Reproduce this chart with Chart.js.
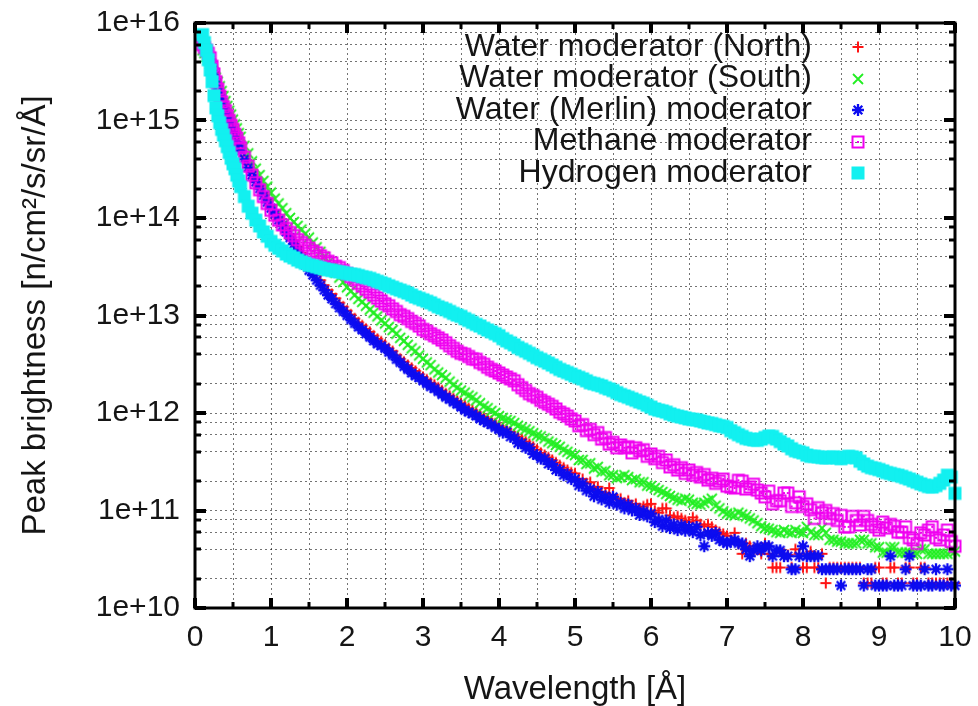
<!DOCTYPE html>
<html>
<head>
<meta charset="utf-8">
<title>Peak brightness by moderator</title>
<script src="https://cdn.jsdelivr.net/npm/chart.js@4.4.1/dist/chart.umd.min.js"></script>
<style>
  html, body { margin: 0; padding: 0; background: #ffffff; }
  #wrap { width: 978px; height: 706px; }
</style>
</head>
<body>
<div id="wrap"><canvas id="chart" width="978" height="706"></canvas></div>
<script>
// Wavelength bins [Å]: finer below 0.6 Å, 0.05 Å steps above
const wavelength = [
  0.1, 0.125, 0.15, 0.175, 0.2, 0.225, 0.25, 0.275, 0.3, 0.325, 0.35, 0.375, 0.4, 0.425, 0.45, 0.475, 0.5, 0.525, 0.55, 0.575, 0.6,
  0.65, 0.7, 0.75, 0.8, 0.85, 0.9, 0.95,
  1.0, 1.05, 1.1, 1.15, 1.2, 1.25, 1.3, 1.35, 1.4, 1.45, 1.5, 1.55, 1.6, 1.65, 1.7, 1.75, 1.8, 1.85, 1.9, 1.95,
  2.0, 2.05, 2.1, 2.15, 2.2, 2.25, 2.3, 2.35, 2.4, 2.45, 2.5, 2.55, 2.6, 2.65, 2.7, 2.75, 2.8, 2.85, 2.9, 2.95,
  3.0, 3.05, 3.1, 3.15, 3.2, 3.25, 3.3, 3.35, 3.4, 3.45, 3.5, 3.55, 3.6, 3.65, 3.7, 3.75, 3.8, 3.85, 3.9, 3.95,
  4.0, 4.05, 4.1, 4.15, 4.2, 4.25, 4.3, 4.35, 4.4, 4.45, 4.5, 4.55, 4.6, 4.65, 4.7, 4.75, 4.8, 4.85, 4.9, 4.95,
  5.0, 5.05, 5.1, 5.15, 5.2, 5.25, 5.3, 5.35, 5.4, 5.45, 5.5, 5.55, 5.6, 5.65, 5.7, 5.75, 5.8, 5.85, 5.9, 5.95,
  6.0, 6.05, 6.1, 6.15, 6.2, 6.25, 6.3, 6.35, 6.4, 6.45, 6.5, 6.55, 6.6, 6.65, 6.7, 6.75, 6.8, 6.85, 6.9, 6.95,
  7.0, 7.05, 7.1, 7.15, 7.2, 7.25, 7.3, 7.35, 7.4, 7.45, 7.5, 7.55, 7.6, 7.65, 7.7, 7.75, 7.8, 7.85, 7.9, 7.95,
  8.0, 8.05, 8.1, 8.15, 8.2, 8.25, 8.3, 8.35, 8.4, 8.45, 8.5, 8.55, 8.6, 8.65, 8.7, 8.75, 8.8, 8.85, 8.9, 8.95,
  9.0, 9.05, 9.1, 9.15, 9.2, 9.25, 9.3, 9.35, 9.4, 9.45, 9.5, 9.55, 9.6, 9.65, 9.7, 9.75, 9.8, 9.85, 9.9, 9.95,
  10.0
];

// Peak brightness [n/cm2/s/sr/Å] for each moderator
const waterNorth = [
  6.3e15, 5.75e15, 5.25e15, 4.8e15, 4.3e15, 3.7e15, 3.1e15, 2.6e15, 2.24e15, 1.95e15, 1.66e15, 1.45e15, 1.29e15, 1.15e15, 1.02e15, 9.1e14, 8.1e14, 7.2e14, 6.5e14, 5.9e14, 5.25e14,
  4.3e14, 3.55e14, 2.95e14, 2.5e14, 2.14e14, 1.82e14, 1.58e14,
  1.35e14, 1.17e14, 1.02e14, 8.9e13, 7.8e13, 6.8e13, 5.9e13, 5.1e13, 4.4e13, 3.7e13, 3.2e13, 2.9e13, 2.6e13, 2.3e13, 2.04e13, 1.82e13, 1.66e13, 1.5e13, 1.35e13, 1.23e13,
  1.12e13, 1.02e13, 9.3e12, 8.5e12, 7.9e12, 7.3e12, 6.8e12, 6.2e12, 5.75e12, 5.4e12, 5.0e12, 4.6e12, 4.3e12, 3.9e12, 3.6e12, 3.35e12, 3.1e12, 2.9e12, 2.7e12, 2.5e12,
  2.34e12, 2.2e12, 2.04e12, 1.95e12, 1.82e12, 1.7e12, 1.58e12, 1.5e12, 1.41e12, 1.33e12, 1.26e12, 1.2e12, 1.12e12, 1.07e12, 1.02e12, 9.5e11, 9.1e11, 8.7e11, 8.3e11, 7.8e11,
  7.4e11, 7.1e11, 6.8e11, 6.4e11, 6.0e11, 5.7e11, 5.4e11, 5.1e11, 4.8e11, 4.5e11, 4.2e11, 3.9e11, 3.7e11, 3.5e11, 3.3e11, 3.1e11, 2.9e11, 2.75e11, 2.6e11, 2.45e11,
  2.4e11, 2.1e11, 2.1e11, 1.9e11, 1.95e11, 1.7e11, 1.75e11, 1.55e11, 1.51e11, 1.7e11, 1.45e11, 1.3e11, 1.32e11, 1.2e11, 1.26e11, 1.1e11, 1.17e11, 1.05e11, 1.1e11, 1.15e11,
  1.17e11, 1.0e11, 9.5e10, 1.05e11, 1.05e11, 8.9e10, 8.5e10, 8.7e10, 8.3e10, 7.9e10, 7.6e10, 8.5e10, 7.9e10, 7.2e10, 6.9e10, 7.2e10, 6.8e10, 6.3e10, 6.0e10, 5.75e10,
  5.5e10, 5.0e10, 5.9e10, 4.6e10, 3.6e10, 4.6e10, 4.3e10, 4.0e10, 4.0e10, 3.6e10, 4.6e10, 3.6e10, 2.6e10, 2.6e10, 2.6e10, 3.6e10, 3.5e10, 2.6e10, 4.0e10, 3.6e10,
  2.6e10, 2.6e10, 3.8e10, 2.6e10, 2.6e10, 3.6e10, 1.8e10, 2.6e10, 2.6e10, 2.6e10, 2.6e10, 2.6e10, 2.6e10, 2.6e10, 2.6e10, 2.6e10, 1.8e10, 1.8e10, 1.8e10, 2.6e10,
  2.6e10, 1.8e10, 1.8e10, 2.6e10, 2.6e10, 1.8e10, 1.8e10, 2.6e10, 2.6e10, 1.8e10, 1.8e10, 2.6e10, 2.6e10, 1.8e10, 1.8e10, 1.8e10, 1.8e10, 1.8e10, 1.8e10, 1.8e10,
  1.8e10
];
const waterSouth = [
  5.25e15, 4.9e15, 4.5e15, 4.2e15, 3.8e15, 3.4e15, 3.1e15, 2.75e15, 2.5e15, 2.24e15, 2.0e15, 1.78e15, 1.58e15, 1.41e15, 1.26e15, 1.15e15, 1.02e15, 9.1e14, 8.3e14, 7.4e14, 6.8e14,
  5.5e14, 4.6e14, 3.8e14, 3.2e14, 2.75e14, 2.4e14, 2.1e14,
  1.82e14, 1.58e14, 1.41e14, 1.26e14, 1.12e14, 1.0e14, 9.1e13, 8.3e13, 7.6e13, 6.9e13, 6.3e13, 5.6e13, 5.0e13, 4.5e13, 4.0e13, 3.47e13, 3.1e13, 2.75e13, 2.45e13, 2.2e13,
  1.95e13, 1.78e13, 1.62e13, 1.48e13, 1.38e13, 1.26e13, 1.15e13, 1.07e13, 9.8e12, 8.9e12, 8.3e12, 7.6e12, 7.1e12, 6.5e12, 5.9e12, 5.5e12, 5.0e12, 4.6e12, 4.3e12, 3.9e12,
  3.6e12, 3.3e12, 3.1e12, 2.8e12, 2.6e12, 2.45e12, 2.3e12, 2.1e12, 1.95e12, 1.82e12, 1.7e12, 1.62e12, 1.51e12, 1.45e12, 1.35e12, 1.26e12, 1.17e12, 1.12e12, 1.05e12, 1.0e12,
  9.3e11, 8.9e11, 8.5e11, 8.3e11, 7.9e11, 7.4e11, 7.1e11, 6.8e11, 6.5e11, 6.2e11, 5.9e11, 5.75e11, 5.5e11, 5.1e11, 4.9e11, 4.7e11, 4.5e11, 4.2e11, 4.0e11, 3.8e11,
  3.7e11, 3.3e11, 3.3e11, 3.0e11, 3.05e11, 2.7e11, 2.8e11, 2.5e11, 2.55e11, 2.3e11, 2.3e11, 2.15e11, 2.2e11, 2.3e11, 2.2e11, 2.05e11, 2.1e11, 1.95e11, 1.95e11, 1.8e11,
  1.78e11, 1.7e11, 1.62e11, 1.55e11, 1.48e11, 1.41e11, 1.35e11, 1.29e11, 1.26e11, 1.32e11, 1.29e11, 1.2e11, 1.17e11, 1.15e11, 1.2e11, 1.26e11, 1.32e11, 1.12e11, 1.05e11, 9.8e10,
  9.3e10, 9.1e10, 8.9e10, 9.5e10, 9.1e10, 8.7e10, 8.3e10, 7.9e10, 7.4e10, 6.9e10, 6.6e10, 6.5e10, 6.3e10, 6.0e10, 5.9e10, 6.3e10, 6.0e10, 5.9e10, 6.3e10, 6.0e10,
  5.9e10, 6.8e10, 6.0e10, 5.6e10, 5.6e10, 6.6e10, 5.9e10, 5.0e10, 5.0e10, 4.8e10, 4.8e10, 4.6e10, 4.6e10, 4.6e10, 4.6e10, 5.0e10, 5.0e10, 4.6e10, 4.6e10, 4.2e10,
  4.2e10, 3.7e10, 3.7e10, 4.2e10, 4.2e10, 3.7e10, 3.7e10, 3.7e10, 3.7e10, 3.6e10, 3.6e10, 4.0e10, 4.0e10, 3.6e10, 3.6e10, 3.6e10, 3.6e10, 3.6e10, 3.6e10, 3.8e10,
  3.8e10
];
const waterMerlin = [
  6.6e15, 6.0e15, 5.4e15, 4.8e15, 4.2e15, 3.55e15, 2.95e15, 2.45e15, 2.1e15, 1.82e15, 1.55e15, 1.35e15, 1.2e15, 1.07e15, 9.5e14, 8.5e14, 7.6e14, 6.8e14, 6.0e14, 5.5e14, 4.9e14,
  4.0e14, 3.3e14, 2.75e14, 2.34e14, 2.0e14, 1.7e14, 1.45e14,
  1.26e14, 1.1e14, 9.5e13, 8.3e13, 7.2e13, 6.3e13, 5.4e13, 4.6e13, 3.9e13, 3.3e13, 2.9e13, 2.6e13, 2.3e13, 2.04e13, 1.82e13, 1.62e13, 1.48e13, 1.32e13, 1.2e13, 1.1e13,
  1.0e13, 9.1e12, 8.3e12, 7.6e12, 7.1e12, 6.5e12, 6.0e12, 5.5e12, 5.1e12, 4.9e12, 4.6e12, 4.2e12, 3.9e12, 3.55e12, 3.3e12, 3.0e12, 2.8e12, 2.57e12, 2.4e12, 2.3e12,
  2.14e12, 2.0e12, 1.86e12, 1.78e12, 1.66e12, 1.55e12, 1.45e12, 1.38e12, 1.29e12, 1.23e12, 1.15e12, 1.07e12, 1.02e12, 9.8e11, 9.3e11, 8.7e11, 8.3e11, 7.9e11, 7.6e11, 7.1e11,
  6.8e11, 6.3e11, 6.4e11, 5.7e11, 5.6e11, 4.9e11, 4.9e11, 4.4e11, 4.4e11, 3.8e11, 3.7e11, 3.4e11, 3.4e11, 3.0e11, 3.0e11, 2.6e11, 2.6e11, 2.3e11, 2.35e11, 2.1e11,
  2.1e11, 1.8e11, 1.9e11, 1.6e11, 1.66e11, 1.4e11, 1.55e11, 1.3e11, 1.4e11, 1.2e11, 1.38e11, 1.15e11, 1.2e11, 1.05e11, 1.15e11, 1.0e11, 1.05e11, 9.0e10, 9.8e10, 8.7e10,
  9.3e10, 7.6e10, 8.1e10, 6.9e10, 7.9e10, 6.6e10, 7.2e10, 6.3e10, 7.1e10, 6.2e10, 6.8e10, 6.0e10, 6.8e10, 5.6e10, 4.3e10, 5.9e10, 5.5e10, 5.9e10, 5.0e10, 4.8e10,
  4.6e10, 4.8e10, 5.0e10, 4.6e10, 4.6e10, 4.0e10, 3.4e10, 3.9e10, 4.3e10, 3.9e10, 4.3e10, 4.3e10, 3.4e10, 3.9e10, 3.9e10, 3.4e10, 3.4e10, 2.5e10, 2.5e10, 3.4e10,
  4.3e10, 3.4e10, 3.4e10, 3.4e10, 3.4e10, 2.5e10, 2.5e10, 2.5e10, 2.5e10, 2.5e10, 1.7e10, 2.5e10, 2.5e10, 2.5e10, 2.5e10, 2.5e10, 1.7e10, 2.5e10, 2.5e10, 1.7e10,
  1.7e10, 1.7e10, 1.7e10, 3.4e10, 1.7e10, 1.7e10, 1.7e10, 2.5e10, 3.4e10, 1.7e10, 1.7e10, 1.7e10, 2.5e10, 1.7e10, 1.7e10, 2.5e10, 1.7e10, 1.7e10, 2.5e10, 1.7e10,
  1.7e10
];
const methane = [
  6.0e15, 5.6e15, 5.25e15, 4.9e15, 4.4e15, 3.6e15, 3.0e15, 2.5e15, 2.1e15, 1.78e15, 1.55e15, 1.38e15, 1.26e15, 1.12e15, 1.0e15, 8.9e14, 8.1e14, 7.2e14, 6.6e14, 5.9e14, 5.25e14,
  4.2e14, 3.4e14, 2.75e14, 2.3e14, 1.95e14, 1.66e14, 1.41e14,
  1.2e14, 1.07e14, 9.5e13, 8.5e13, 7.8e13, 7.1e13, 6.6e13, 6.0e13, 5.6e13, 5.25e13, 4.9e13, 4.6e13, 4.4e13, 4.1e13, 3.9e13, 3.6e13, 3.47e13, 3.2e13, 3.1e13, 2.9e13,
  2.7e13, 2.5e13, 2.34e13, 2.14e13, 2.0e13, 1.86e13, 1.74e13, 1.62e13, 1.51e13, 1.41e13, 1.32e13, 1.26e13, 1.17e13, 1.1e13, 1.02e13, 9.8e12, 9.3e12, 8.7e12, 8.3e12, 7.8e12,
  7.2e12, 6.9e12, 6.5e12, 6.2e12, 5.9e12, 5.6e12, 5.25e12, 4.9e12, 4.6e12, 4.3e12, 4.1e12, 4.0e12, 3.8e12, 3.6e12, 3.55e12, 3.3e12, 3.16e12, 2.95e12, 2.8e12, 2.7e12,
  2.57e12, 2.45e12, 2.34e12, 2.24e12, 2.14e12, 1.95e12, 1.82e12, 1.7e12, 1.58e12, 1.51e12, 1.45e12, 1.35e12, 1.29e12, 1.23e12, 1.17e12, 1.1e12, 1.02e12, 9.8e11, 9.3e11, 8.7e11,
  8.3e11, 7.4e11, 7.6e11, 6.6e11, 6.8e11, 6.0e11, 6.3e11, 5.4e11, 5.6e11, 4.8e11, 5.0e11, 4.4e11, 4.7e11, 4.4e11, 4.5e11, 3.9e11, 4.4e11, 4.1e11, 4.2e11, 3.6e11,
  3.8e11, 3.4e11, 3.6e11, 3.1e11, 3.3e11, 2.8e11, 2.95e11, 2.6e11, 2.75e11, 2.4e11, 2.6e11, 2.3e11, 2.45e11, 2.2e11, 2.34e11, 2.05e11, 2.14e11, 1.9e11, 2.0e11, 2.1e11,
  1.78e11, 1.74e11, 1.7e11, 2.04e11, 2.0e11, 1.66e11, 1.74e11, 1.86e11, 1.62e11, 1.51e11, 1.38e11, 1.58e11, 1.17e11, 1.26e11, 1.26e11, 1.51e11, 1.51e11, 1.1e11, 1.2e11, 1.38e11,
  1.1e11, 1.17e11, 1.02e11, 8.3e10, 1.07e11, 9.5e10, 1.0e11, 8.3e10, 9.3e10, 7.9e10, 8.9e10, 6.8e10, 6.8e10, 8.7e10, 7.9e10, 7.1e10, 8.7e10, 7.9e10, 7.2e10, 6.8e10,
  6.3e10, 7.6e10, 6.6e10, 7.2e10, 6.9e10, 6.0e10, 6.0e10, 6.8e10, 5.25e10, 5.0e10, 4.6e10, 5.9e10, 5.6e10, 6.3e10, 6.8e10, 5.25e10, 5.0e10, 5.6e10, 6.3e10, 4.8e10,
  4.3e10
];
const hydrogen = [
  7.6e15, 6.3e15, 5.25e15, 4.2e15, 3.3e15, 2.5e15, 1.8e15, 1.35e15, 1.12e15, 9.5e14, 8.1e14, 7.1e14, 6.2e14, 5.4e14, 4.7e14, 4.1e14, 3.6e14, 3.2e14, 2.75e14, 2.4e14, 2.1e14,
  1.66e14, 1.32e14, 1.12e14, 9.5e13, 8.3e13, 7.2e13, 6.5e13,
  5.75e13, 5.25e13, 4.9e13, 4.6e13, 4.27e13, 4.07e13, 3.9e13, 3.7e13, 3.55e13, 3.43e13, 3.3e13, 3.24e13, 3.16e13, 3.08e13, 3.0e13, 2.95e13, 2.9e13, 2.85e13, 2.8e13, 2.75e13,
  2.7e13, 2.66e13, 2.63e13, 2.57e13, 2.5e13, 2.45e13, 2.4e13, 2.32e13, 2.24e13, 2.17e13, 2.1e13, 2.02e13, 1.95e13, 1.88e13, 1.82e13, 1.76e13, 1.7e13, 1.62e13, 1.55e13, 1.5e13,
  1.45e13, 1.4e13, 1.35e13, 1.29e13, 1.23e13, 1.19e13, 1.15e13, 1.1e13, 1.05e13, 1.01e13, 9.8e12, 9.3e12, 8.9e12, 8.5e12, 8.1e12, 7.8e12, 7.4e12, 7.1e12, 6.8e12, 6.5e12,
  6.2e12, 5.8e12, 5.5e12, 5.25e12, 5.0e12, 4.7e12, 4.5e12, 4.3e12, 4.1e12, 3.9e12, 3.7e12, 3.55e12, 3.4e12, 3.25e12, 3.1e12, 2.95e12, 2.8e12, 2.7e12, 2.6e12, 2.5e12,
  2.4e12, 2.32e12, 2.24e12, 2.14e12, 2.04e12, 2.0e12, 1.95e12, 1.9e12, 1.82e12, 1.76e12, 1.7e12, 1.62e12, 1.55e12, 1.5e12, 1.45e12, 1.4e12, 1.35e12, 1.3e12, 1.26e12, 1.2e12,
  1.15e12, 1.1e12, 1.07e12, 1.05e12, 1.02e12, 9.8e11, 9.5e11, 9.3e11, 9.1e11, 8.9e11, 8.7e11, 8.6e11, 8.5e11, 8.3e11, 8.1e11, 7.9e11, 7.8e11, 7.6e11, 7.4e11, 7.3e11,
  7.1e11, 6.6e11, 6.3e11, 6.0e11, 5.75e11, 5.5e11, 5.4e11, 5.3e11, 5.25e11, 5.4e11, 5.6e11, 5.8e11, 5.75e11, 5.4e11, 5.1e11, 4.8e11, 4.6e11, 4.3e11, 4.1e11, 4.0e11,
  3.9e11, 3.7e11, 3.6e11, 3.6e11, 3.55e11, 3.5e11, 3.47e11, 3.5e11, 3.55e11, 3.47e11, 3.4e11, 3.5e11, 3.6e11, 3.55e11, 3.47e11, 3.2e11, 3.0e11, 2.85e11, 2.75e11, 2.7e11,
  2.63e11, 2.55e11, 2.45e11, 2.4e11, 2.34e11, 2.3e11, 2.24e11, 2.17e11, 2.1e11, 2.02e11, 1.95e11, 1.88e11, 1.82e11, 1.76e11, 1.74e11, 1.8e11, 1.9e11, 2.05e11, 2.3e11, 2.2e11,
  1.5e11
];

const seriesNames = [
  'Water moderator (North)',
  'Water moderator (South)',
  'Water (Merlin) moderator',
  'Methane moderator',
  'Hydrogen moderator'
];

// Axis ticks: decades are labelled, 2/4/6/8 get minor ticks and grid lines
const yDecades = [1e10, 1e11, 1e12, 1e13, 1e14, 1e15, 1e16];
const yMinorFactors = [2, 4, 6, 8];
const xTickValues = [0, 0.5, 1, 1.5, 2, 2.5, 3, 3.5, 4, 4.5, 5, 5.5, 6, 6.5, 7, 7.5, 8, 8.5, 9, 9.5, 10];

const FONT = '"Liberation Sans", Arial, Helvetica, sans-serif';
const TEXT_COLOR = '#151515';
const GRID_COLOR = 'rgba(0,0,0,0.55)';

const yTickValues = [];
yDecades.forEach((d, i) => {
  yTickValues.push(d);
  if (i < yDecades.length - 1) yMinorFactors.forEach(f => yTickValues.push(d * f));
});

// Marker glyphs, one small canvas per series
function makeMarker(kind, color) {
  const c = document.createElement('canvas');
  const s = 16;
  c.width = s; c.height = s;
  const g = c.getContext('2d');
  const m = s / 2;
  g.strokeStyle = color;
  g.fillStyle = color;
  g.lineCap = 'butt';
  if (kind === 'plus') {
    g.lineWidth = 2;
    g.beginPath();
    g.moveTo(m, m - 5.5); g.lineTo(m, m + 5.5);
    g.moveTo(m - 5.5, m); g.lineTo(m + 5.5, m);
    g.stroke();
  } else if (kind === 'cross') {
    g.lineWidth = 1.8;
    g.beginPath();
    g.moveTo(m - 5, m - 5); g.lineTo(m + 5, m + 5);
    g.moveTo(m + 5, m - 5); g.lineTo(m - 5, m + 5);
    g.stroke();
  } else if (kind === 'star') {
    g.lineWidth = 2.3;
    g.beginPath();
    g.moveTo(m, m - 6); g.lineTo(m, m + 6);
    g.moveTo(m - 6, m); g.lineTo(m + 6, m);
    g.moveTo(m - 4.3, m - 4.3); g.lineTo(m + 4.3, m + 4.3);
    g.moveTo(m + 4.3, m - 4.3); g.lineTo(m - 4.3, m + 4.3);
    g.stroke();
  } else if (kind === 'boxdot') {
    g.lineWidth = 2;
    g.strokeRect(m - 5.5, m - 5.5, 11, 11);
    g.fillRect(m - 1, m - 1, 2, 2);
  } else if (kind === 'box') {
    g.fillRect(m - 6.5, m - 6.5, 13, 13);
  }
  return c;
}

const seriesValues = [waterNorth, waterSouth, waterMerlin, methane, hydrogen];
const seriesColors = ['#ff1414', '#22ee22', '#0c0cf0', '#f000f0', '#12f0f0'];
const seriesMarkers = ['plus', 'cross', 'star', 'boxdot', 'box'];
const drawOrder = [4, 3, 2, 1, 0];

const datasets = seriesValues.map((vals, i) => ({
  label: seriesNames[i],
  data: vals.map((v, k) => ({ x: wavelength[k], y: v })),
  pointStyle: makeMarker(seriesMarkers[i], seriesColors[i]),
  pointRadius: 6,
  borderColor: seriesColors[i],
  backgroundColor: seriesColors[i],
  showLine: false,
  order: drawOrder[i],
  clip: false
}));

// Heavy frame with inward ticks on all four sides
const frameAndTicks = {
  id: 'frameAndTicks',
  afterDatasetsDraw(chart) {
    const { ctx, chartArea: a, scales: { x, y } } = chart;
    ctx.save();
    ctx.strokeStyle = '#000';
    ctx.lineCap = 'butt';
    x.ticks.forEach(t => {
      const px = Math.round(x.getPixelForValue(t.value));
      const major = Number.isInteger(t.value);
      const len = major ? 10 : 6;
      ctx.lineWidth = major ? 4 : 3;
      ctx.beginPath();
      ctx.moveTo(px, a.bottom); ctx.lineTo(px, a.bottom - len);
      ctx.moveTo(px, a.top); ctx.lineTo(px, a.top + len);
      ctx.stroke();
    });
    y.ticks.forEach(t => {
      const py = Math.round(y.getPixelForValue(t.value));
      const e = Math.log10(t.value);
      const major = Math.abs(e - Math.round(e)) < 1e-6;
      const len = major ? 11 : 6;
      ctx.lineWidth = major ? 4 : 3;
      ctx.beginPath();
      ctx.moveTo(a.left, py); ctx.lineTo(a.left + len, py);
      ctx.moveTo(a.right, py); ctx.lineTo(a.right - len, py);
      ctx.stroke();
    });
    ctx.lineWidth = 3;
    ctx.strokeRect(a.left, a.top, a.right - a.left, a.bottom - a.top);
    ctx.restore();
  }
};

// Key in the upper right: right-aligned names followed by the marker
const keyRows = {
  id: 'keyRows',
  afterDraw(chart) {
    const { ctx, chartArea: a } = chart;
    const textRight = a.right - 143;
    const markX = a.right - 97;
    const top = a.top + 24;
    const step = 31.5;
    ctx.save();
    ctx.font = '32px ' + FONT;
    ctx.fillStyle = TEXT_COLOR;
    ctx.textAlign = 'right';
    ctx.textBaseline = 'middle';
    chart.data.datasets.forEach((ds, i) => {
      const yy = top + i * step;
      ctx.fillText(ds.label, textRight, yy);
      const img = ds.pointStyle;
      ctx.drawImage(img, Math.round(markX - img.width / 2), Math.round(yy - img.height / 2));
    });
    ctx.restore();
  }
};

new Chart(document.getElementById('chart'), {
  type: 'scatter',
  data: { datasets },
  options: {
    responsive: false,
    animation: false,
    devicePixelRatio: 1,
    events: [],
    layout: { padding: { top: 23, right: 23, left: 0, bottom: 0 } },
    plugins: { legend: { display: false }, tooltip: { enabled: false } },
    scales: {
      x: {
        type: 'linear',
        min: 0,
        max: 10,
        afterBuildTicks: s => { s.ticks = xTickValues.map(v => ({ value: v })); },
        afterFit: s => { s.height = 98; s.paddingLeft = 0; s.paddingRight = 0; },
        grid: { color: GRID_COLOR, lineWidth: 1, drawTicks: false },
        border: { display: false, dash: [2, 3] },
        ticks: {
          autoSkip: false,
          maxRotation: 0,
          padding: 12,
          color: TEXT_COLOR,
          font: { family: FONT, size: 30 },
          callback: v => (Number.isInteger(v) ? String(v) : '')
        },
        title: {
          display: true,
          text: 'Wavelength [Å]',
          color: TEXT_COLOR,
          font: { family: FONT, size: 33, lineHeight: 1 },
          padding: { top: 0, bottom: 0 }
        }
      },
      y: {
        type: 'logarithmic',
        min: 1e10,
        max: 1e16,
        afterBuildTicks: s => { s.ticks = yTickValues.map(v => ({ value: v })); },
        afterFit: s => { s.width = 195; s.paddingTop = 0; s.paddingBottom = 0; },
        grid: { color: GRID_COLOR, lineWidth: 1, drawTicks: false },
        border: { display: false, dash: [2, 3] },
        ticks: {
          autoSkip: false,
          padding: 15,
          color: TEXT_COLOR,
          font: { family: FONT, size: 30 },
          callback: v => {
            const e = Math.log10(v);
            return Math.abs(e - Math.round(e)) < 1e-6 ? '1e+' + Math.round(e) : '';
          }
        },
        title: {
          display: true,
          text: 'Peak brightness [n/cm²/s/sr/Å]',
          color: TEXT_COLOR,
          font: { family: FONT, size: 33, lineHeight: 1.2 },
          padding: { top: 16, bottom: 0 }
        }
      }
    }
  },
  plugins: [frameAndTicks, keyRows]
});
</script>
</body>
</html>
